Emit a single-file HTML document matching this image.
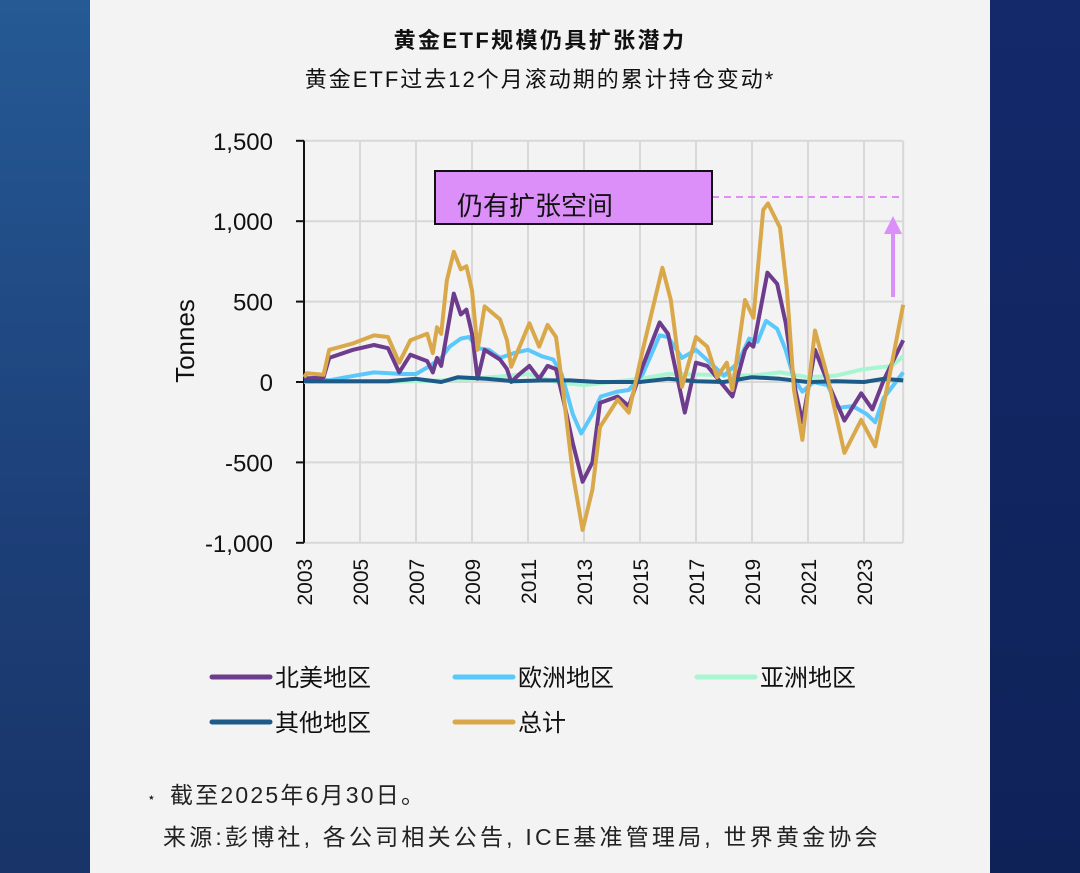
<!DOCTYPE html>
<html><head><meta charset="utf-8"><style>
html,body{margin:0;padding:0;}
body{width:1080px;height:873px;position:relative;overflow:hidden;background:linear-gradient(180deg,#255a95 0%,#1d3f78 60%,#183468 100%);font-family:"Liberation Sans","Noto Sans CJK SC",sans-serif;}
#right{position:absolute;left:990px;top:0;width:90px;height:873px;background:linear-gradient(180deg,#13296a,#0f2258);}
#card{position:absolute;left:90px;top:0;width:900px;height:873px;background:#f3f3f3;}
svg text{font-family:"Liberation Sans","Noto Sans CJK SC",sans-serif;}
</style></head><body>
<div id="right"></div>
<div id="card"></div>
<svg id="chart" width="1080" height="873" style="position:absolute;left:0;top:0">
<text x="540" y="48" text-anchor="middle" font-size="22" font-weight="bold" fill="#111" letter-spacing="2.4">黄金ETF规模仍具扩张潜力</text>
<text x="540" y="87" text-anchor="middle" font-size="22" fill="#111" letter-spacing="2">黄金ETF过去12个月滚动期的累计持仓变动*</text>
<g id="grid"></g><g id="ticks"></g><g id="series"></g><g id="annot"></g>
<text transform="translate(194,341) rotate(-90)" text-anchor="middle" font-size="26" fill="#111">Tonnes</text>
<g id="legend"></g>
<text x="147" y="802" font-size="14" fill="#222">⋆</text>
<text x="170" y="803" font-size="23" fill="#222" letter-spacing="2.2">截至2025年6月30日。</text>
<text x="163" y="845" font-size="23" fill="#222" letter-spacing="3.2">来源:彭博社, 各公司相关公告, ICE基准管理局, 世界黄金协会</text>
</svg>
<script>
const yTicks=[1500,1000,500,0,-500,-1000];
const yTickLabels=["1,500","1,000","500","0","-500","-1,000"];
const xTicks=[2003,2005,2007,2009,2011,2013,2015,2017,2019,2021,2023];
const naT=[2003,2003.7,2003.9,2004.75,2005.5,2006,2006.4,2006.8,2007.4,2007.6,2007.75,2007.9,2008.1,2008.35,2008.6,2008.8,2009,2009.2,2009.45,2010,2010.25,2010.4,2010.7,2011.05,2011.4,2011.7,2012,2012.25,2012.6,2012.95,2013.3,2013.57,2014.2,2014.6,2015.1,2015.7,2016,2016.6,2017,2017.4,2018.3,2018.75,2018.9,2019.05,2019.55,2019.9,2020.2,2020.55,2020.8,2021.25,2021.7,2022.3,2022.9,2023.3,2023.7,2024.4];
const naV=[20,30,150,200,230,210,60,170,130,60,150,100,300,550,420,450,300,20,200,140,80,0,50,100,20,100,80,-100,-380,-620,-500,-130,-90,-150,100,370,300,-190,120,100,-90,200,240,220,680,610,370,-50,-250,200,0,-240,-70,-170,10,260];
const euT=[2003,2003.5,2003.9,2004.5,2005.5,2006.5,2007,2007.5,2007.9,2008.2,2008.6,2008.9,2009.2,2009.6,2010,2010.5,2011,2011.5,2011.9,2012.2,2012.6,2012.9,2013.3,2013.6,2014.2,2014.6,2015.1,2015.7,2016,2016.5,2017,2017.5,2018,2018.5,2018.9,2019.2,2019.5,2019.9,2020.2,2020.5,2020.8,2021.2,2021.7,2022.1,2022.6,2023.1,2023.4,2023.7,2024.4];
const euV=[30,20,10,30,60,50,50,100,150,220,270,280,210,200,150,180,200,160,140,50,-200,-320,-200,-90,-60,-50,50,290,280,150,200,120,40,120,270,250,380,330,200,20,-60,0,-20,-160,-150,-200,-250,-100,60];
const asT=[2003,2006,2008,2009,2011,2012,2013,2015,2016,2019,2020,2021,2022,2023,2024,2024.4];
const asV=[0,0,10,20,50,0,-20,20,50,40,60,30,40,80,100,160];
const otT=[2003,2006,2007,2007.9,2008.5,2009.5,2010.5,2011.5,2012.5,2013.5,2015,2016,2017,2018,2019,2020,2021,2022,2023,2023.7,2024.4];
const otV=[5,5,20,0,30,20,5,10,10,0,0,20,5,0,30,20,0,5,0,20,10];
const toT=[2003,2003.1,2003.7,2003.9,2004.75,2005.5,2006,2006.4,2006.8,2007.4,2007.6,2007.75,2007.9,2008.1,2008.35,2008.6,2008.8,2009,2009.2,2009.45,2010,2010.25,2010.4,2010.7,2011.05,2011.4,2011.7,2012,2012.25,2012.6,2012.95,2013.3,2013.57,2014.2,2014.6,2015.1,2015.8,2016.1,2016.5,2017,2017.4,2017.75,2018.1,2018.3,2018.75,2019.05,2019.4,2019.57,2020,2020.25,2020.5,2020.8,2021.25,2021.7,2022.3,2022.9,2023.4,2023.9,2024.4];
const toV=[30,55,45,200,240,290,280,120,260,300,180,340,300,630,810,700,720,570,200,470,390,260,95,220,365,220,355,280,-50,-570,-920,-670,-280,-110,-190,200,710,510,-30,280,220,30,120,-50,510,400,1070,1110,960,570,-50,-360,320,30,-440,-236,-400,30,480];
const legendNames=["北美地区","欧洲地区","亚洲地区","其他地区","总计"];
const NS="http://www.w3.org/2000/svg";
const X0=304,X1=903,Y0=382,PPU=80.4/500;
function xs(t){return X0+(t-2003)*28;}
function ys(v){return Y0-v*PPU;}
function mk(tag,attrs,parent){const e=document.createElementNS(NS,tag);for(const k in attrs)e.setAttribute(k,attrs[k]);parent.appendChild(e);return e;}
const grid=document.getElementById('grid'),ticks=document.getElementById('ticks');
yTicks.forEach((v,i)=>{
 const l=mk('line',{x1:X0,x2:X1,y1:ys(v),y2:ys(v),stroke:'#d8d8d8','stroke-width':2},grid);
 
 
 const t=mk('text',{x:273,y:ys(v)+9,'text-anchor':'end','font-size':24,fill:'#111'},ticks);
 t.textContent=yTickLabels[i];
 
 
});
xTicks.concat([2024.4]).forEach(tk=>{
 const l=mk('line',{x1:xs(tk),x2:xs(tk),y1:ys(1500),y2:ys(-1000),stroke:'#d8d8d8','stroke-width':2},grid);
 
 
});
xTicks.forEach(tk=>{
 const t=mk('text',{transform:`translate(${xs(tk)+8},${ys(-1000)+16}) rotate(-90)`,'text-anchor':'end','font-size':21,fill:'#111'},ticks);
 t.textContent=tk;
 
 
});
const ax=mk('line',{x1:X0,x2:X0,y1:ys(1500),y2:ys(-1000),stroke:'#111','stroke-width':2},ticks);


yTicks.forEach(v=>{const m=mk('line',{x1:X0-8,x2:X0,y1:ys(v),y2:ys(v),stroke:'#111','stroke-width':2},ticks);
 
 });
const ser=document.getElementById('series');
const specs=[[asT,asV,'#a8f5d2','asia-line'],[euT,euV,'#5ac8fa','europe-line'],[naT,naV,'#6e3c8c','north-america-line'],[otT,otV,'#1e5a87','other-line'],[toT,toV,'#d9a84a','total-line']];
specs.forEach(s=>{
 const pts=s[0].map((t,i)=>xs(t).toFixed(1)+','+ys(s[1][i]).toFixed(1)).join(' ');
 const p=mk('polyline',{points:pts,fill:'none',stroke:s[2],'stroke-width':4,'stroke-linejoin':'round'},ser);
 
 
});
const an=document.getElementById('annot');
const dl=mk('line',{x1:712,x2:903,y1:197,y2:197,stroke:'#e08ff5','stroke-width':2,'stroke-dasharray':'7,5'},an);


const box=mk('rect',{x:435,y:171,width:277,height:53,fill:'#dc8ff8',stroke:'#111','stroke-width':2},an);


const bt=mk('text',{x:457,y:215,'font-size':26,fill:'#111'},an);bt.textContent='仍有扩张空间';


const ar=mk('line',{x1:893,x2:893,y1:297,y2:232,stroke:'#dc8ff8','stroke-width':4},an);


const ah=mk('polygon',{points:'884,234 902,234 893,216',fill:'#dc8ff8'},an);


const lg=document.getElementById('legend');
const lcol=['#6e3c8c','#5ac8fa','#a8f5d2','#1e5a87','#d9a84a'];
const lpos=[[212,677],[455,677],[697,677],[212,722],[455,722]];
legendNames.forEach((n,i)=>{
 const [x,y]=lpos[i];
 const g=mk('g',{},lg);
 
 
 mk('line',{x1:x,x2:x+58,y1:y,y2:y,stroke:lcol[i],'stroke-width':5,'stroke-linecap':'round'},g);
 const t=mk('text',{x:x+63,y:y+9,'font-size':24,fill:'#111'},g);t.textContent=n;
});
</script>
</body></html>
